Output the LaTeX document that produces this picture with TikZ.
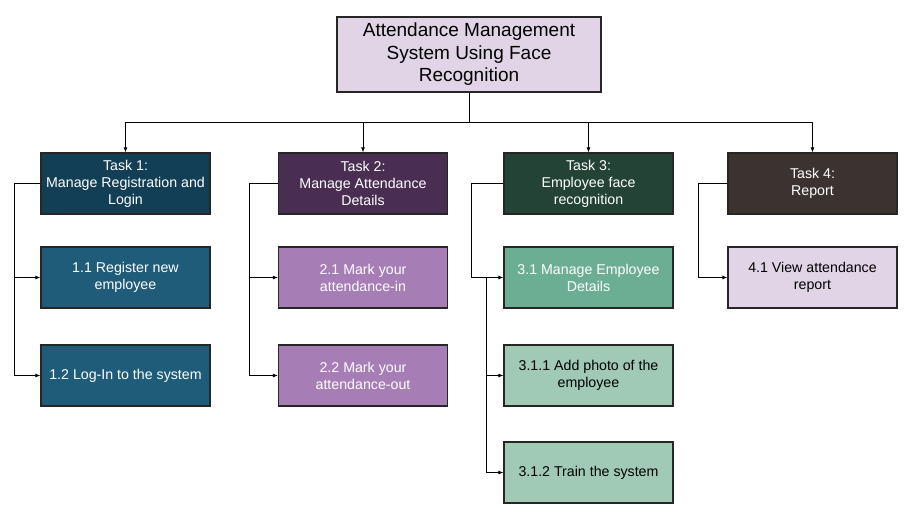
\documentclass[tikz,border=0pt]{standalone}
\usepackage{fontspec}
\setmainfont{Liberation Sans}
\usetikzlibrary{arrows.meta}
\definecolor{rootc}{HTML}{E0D4E6}
\definecolor{tAc}{HTML}{123F55}
\definecolor{sAc}{HTML}{1E5C7A}
\definecolor{tBc}{HTML}{4A2E52}
\definecolor{sBc}{HTML}{A67DB5}
\definecolor{tCc}{HTML}{234337}
\definecolor{sCc}{HTML}{6BAE94}
\definecolor{ssCc}{HTML}{A0CAB6}
\definecolor{tDc}{HTML}{3B3330}
\definecolor{sDc}{HTML}{E0D4E6}
\begin{document}
\begin{tikzpicture}[x=1pt,y=-1pt,
  box/.style={draw=black!85,line width=1.3pt,minimum width=169pt,minimum height=61pt,align=center,inner sep=2pt,font=\fontsize{14.2}{17}\selectfont},
  rootbox/.style={box,minimum width=264pt,minimum height=75pt,font=\fontsize{19}{22.5}\selectfont,fill=rootc,text=black},
  conn/.style={draw=black,line width=0.8pt},
  arr/.style={conn,-{Latex[length=5pt,width=4pt]}}]
\useasboundingbox (0,0) rectangle (912,514);
\node[rootbox] (root) at (469,54.5) {Attendance Management\\System Using Face\\Recognition};
\node[box,fill=tAc,text=white] (t1) at (125.5,183.5) {Task 1:\\Manage Registration and\\Login};
\node[box,fill=tBc,text=white] (t2) at (363,183.5) {Task 2:\\Manage Attendance\\Details};
\node[box,fill=tCc,text=white] (t3) at (588.5,183.5) {Task 3:\\Employee face\\recognition};
\node[box,fill=tDc,text=white] (t4) at (812.5,183.5) {Task 4:\\Report};
\node[box,fill=sAc,text=white] (s11) at (125.5,277.5) {1.1 Register new\\employee};
\node[box,fill=sAc,text=white] (s12) at (125.5,375.5) {1.2 Log-In to the system};
\node[box,fill=sBc,text=white] (s21) at (363,277.5) {2.1 Mark your\\attendance-in};
\node[box,fill=sBc,text=white] (s22) at (363,375.5) {2.2 Mark your\\attendance-out};
\node[box,fill=sCc,text=white] (s31) at (588.5,277.5) {3.1 Manage Employee\\Details};
\node[box,fill=ssCc,text=black] (s311) at (588.5,375.5) {3.1.1 Add photo of the\\employee};
\node[box,fill=ssCc,text=black] (s312) at (588.5,472.5) {3.1.2 Train the system};
\node[box,fill=sDc,text=black] (s41) at (812.5,277.5) {4.1 View attendance\\report};
% top bus
\coordinate (bus) at (469,122);
\draw[conn] (root.south) -- (bus);
\draw[conn] (t1.north |- bus) -- (t4.north |- bus);
\foreach \t in {t1,t2,t3,t4}{\draw[arr] (\t.north |- bus) -- (\t.north);}
% task 1
\coordinate (a1) at (14,183.5);
\draw[conn] (t1.west) -- (a1) -- (a1 |- s12.west);
\draw[arr] (a1 |- s11.west) -- (s11.west);
\draw[arr] (a1 |- s12.west) -- (s12.west);
% task 2
\coordinate (a2) at (249,183.5);
\draw[conn] (t2.west) -- (a2) -- (a2 |- s22.west);
\draw[arr] (a2 |- s21.west) -- (s21.west);
\draw[arr] (a2 |- s22.west) -- (s22.west);
% task 3
\coordinate (a3) at (471,183.5);
\draw[conn] (t3.west) -- (a3) -- (a3 |- s31.west);
\draw[arr] (a3 |- s31.west) -- (s31.west);
\coordinate (b3) at (486,277.5);
\draw[conn] (b3) -- (b3 |- s312.west);
\draw[arr] (b3 |- s311.west) -- (s311.west);
\draw[arr] (b3 |- s312.west) -- (s312.west);
% task 4
\coordinate (a4) at (698,183.5);
\draw[conn] (t4.west) -- (a4) -- (a4 |- s41.west);
\draw[arr] (a4 |- s41.west) -- (s41.west);
\end{tikzpicture}
\end{document}
